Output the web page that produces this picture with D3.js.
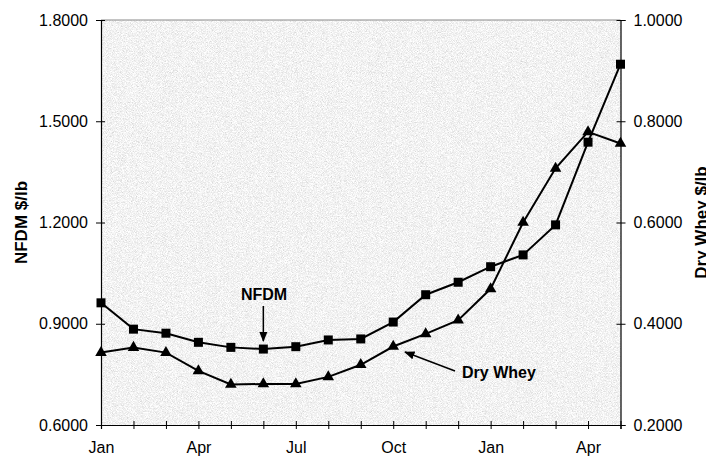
<!DOCTYPE html>
<html>
<head>
<meta charset="utf-8">
<script src="https://cdn.jsdelivr.net/npm/d3@7"></script>
<style>
  body { margin: 0; background: #fff; }
  svg { display: block; font-family: Arial, "Liberation Sans", sans-serif; }
</style>
</head>
<body>
<div id="chart"></div>
<script>
// months, Jan of year 1 through May of year 2
const months = ['Jan','Feb','Mar','Apr','May','Jun','Jul','Aug','Sep','Oct','Nov','Dec','Jan','Feb','Mar','Apr','May']
const nfdm = [0.962, 0.884, 0.872, 0.845, 0.830, 0.825, 0.832, 0.852, 0.855, 0.905, 0.986, 1.023, 1.069, 1.104, 1.193, 1.438, 1.669]
const dryWhey = [0.343, 0.353, 0.343, 0.307, 0.280, 0.281, 0.281, 0.295, 0.319, 0.355, 0.380, 0.407, 0.469, 0.600, 0.707, 0.779, 0.756]
const leftTicks = [0.6, 0.9, 1.2, 1.5, 1.8]
const rightTicks = [0.2, 0.4, 0.6, 0.8, 1.0]

const W = 706, H = 459
const m = { left: 101, right: 620.5, top: 20, bottom: 425 }

const svg = d3.select('#chart').append('svg').attr('width', W).attr('height', H)

// grainy grey plot background
const defs = svg.append('defs')
const f = defs.append('filter').attr('id', 'grain').attr('x', 0).attr('y', 0).attr('width', 1).attr('height', 1)
f.append('feTurbulence').attr('type', 'fractalNoise').attr('baseFrequency', 1.2).attr('numOctaves', 3).attr('seed', 7)
f.append('feColorMatrix').attr('type', 'matrix')
  .attr('values', '0.6 0 0 0 0.59  0.6 0 0 0 0.59  0.6 0 0 0 0.59  0 0 0 0 1')

svg.append('rect')
  .attr('x', m.left).attr('y', m.top)
  .attr('width', m.right - m.left).attr('height', m.bottom - m.top)
  .attr('filter', 'url(#grain)')

svg.append('line')
  .attr('x1', m.left).attr('x2', m.right).attr('y1', m.top).attr('y2', m.top)
  .attr('stroke', '#888').attr('stroke-width', 1)

const x = d3.scalePoint().domain(d3.range(months.length)).range([m.left, m.right])
const yL = d3.scaleLinear().domain([0.6, 1.8]).range([m.bottom, m.top])
const yR = d3.scaleLinear().domain([0.2, 1.0]).range([m.bottom, m.top])

function styleAxis(g) {
  g.select('.domain').attr('stroke', '#000').attr('stroke-width', 1.2)
  g.selectAll('.tick line').attr('stroke', '#000')
  g.selectAll('.tick text').attr('font-size', 16).attr('fill', '#000')
    .attr('font-family', 'Arial, "Liberation Sans", sans-serif')
}

const gL = svg.append('g').attr('transform', `translate(${m.left},0)`)
  .call(d3.axisLeft(yL).tickValues(leftTicks).tickFormat(d3.format('.4f')).tickSizeOuter(0).tickSize(5).tickPadding(8))
styleAxis(gL)
gL.selectAll('.tick line').attr('x1', 4)

const gR = svg.append('g').attr('transform', `translate(${m.right},0)`)
  .call(d3.axisRight(yR).tickValues(rightTicks).tickFormat(d3.format('.4f')).tickSizeOuter(0).tickSize(5).tickPadding(8))
styleAxis(gR)
gR.selectAll('.tick line').attr('x1', -4)

const gX = svg.append('g').attr('transform', `translate(0,${m.bottom})`)
  .call(d3.axisBottom(x).tickFormat(i => i % 3 === 0 ? months[i] : '').tickSizeOuter(0).tickSize(4).tickPadding(13))
styleAxis(gX)
gX.selectAll('.tick line').attr('y1', -4)

// axis titles (the right one runs off the page edge, as in the original)
svg.append('text')
  .attr('transform', `translate(27,${(m.top + m.bottom) / 2}) rotate(-90)`)
  .attr('text-anchor', 'middle').attr('font-size', 17).attr('font-weight', 'bold')
  .text('NFDM $/lb')
svg.append('text')
  .attr('transform', `translate(707,${(m.top + m.bottom) / 2}) rotate(-90)`)
  .attr('text-anchor', 'middle').attr('font-size', 17).attr('font-weight', 'bold')
  .text('Dry Whey $/lb')

// series
const lineL = d3.line().x((d, i) => x(i)).y(d => yL(d))
const lineR = d3.line().x((d, i) => x(i)).y(d => yR(d))

svg.append('path').datum(nfdm).attr('d', lineL)
  .attr('fill', 'none').attr('stroke', '#000').attr('stroke-width', 2)
svg.append('path').datum(dryWhey).attr('d', lineR)
  .attr('fill', 'none').attr('stroke', '#000').attr('stroke-width', 2)

svg.append('g').selectAll('rect').data(nfdm).join('rect')
  .attr('x', (d, i) => x(i) - 4.5).attr('y', d => yL(d) - 4.5)
  .attr('width', 9).attr('height', 9).attr('fill', '#000')

const tri = d3.symbol().type(d3.symbolTriangle).size(58)
svg.append('g').selectAll('path').data(dryWhey).join('path')
  .attr('d', tri)
  .attr('transform', (d, i) => `translate(${x(i)},${yR(d)})`)
  .attr('fill', '#000')

// annotations
defs.append('marker').attr('id', 'arr').attr('viewBox', '0 0 10 10')
  .attr('refX', 9).attr('refY', 5).attr('markerWidth', 7).attr('markerHeight', 7)
  .attr('orient', 'auto')
  .append('path').attr('d', 'M0,1 L10,5 L0,9 z').attr('fill', '#000')

svg.append('text').attr('x', 264).attr('y', 300).attr('text-anchor', 'middle')
  .attr('font-size', 16).attr('font-weight', 'bold').text('NFDM')
svg.append('line').attr('x1', x(5)).attr('y1', 306).attr('x2', x(5)).attr('y2', 341)
  .attr('stroke', '#000').attr('stroke-width', 1.5).attr('marker-end', 'url(#arr)')

svg.append('text').attr('x', 462).attr('y', 378)
  .attr('font-size', 16).attr('font-weight', 'bold').text('Dry Whey')
svg.append('line').attr('x1', 455).attr('y1', 371).attr('x2', 405).attr('y2', 352)
  .attr('stroke', '#000').attr('stroke-width', 1.5).attr('marker-end', 'url(#arr)')
</script>
</body>
</html>
